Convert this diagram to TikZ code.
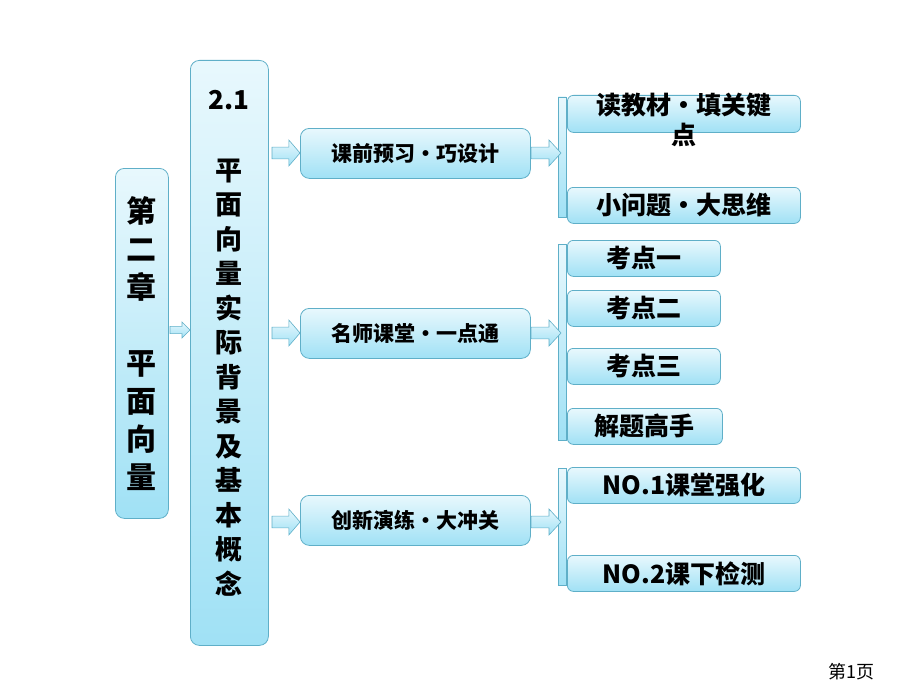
\documentclass[tikz,border=0pt]{standalone}
\usepackage{fontspec}
\setmainfont{Noto Sans CJK SC}
\usetikzlibrary{positioning, calc}
\definecolor{boxtop}{RGB}{232,248,253}
\definecolor{boxbot}{RGB}{160,225,245}
\definecolor{boxline}{RGB}{95,175,200}
\tikzset{
  box/.style={draw=boxline, line width=0.8pt, rounded corners=9pt, top color=boxtop, bottom color=boxbot, inner sep=0pt, anchor=north west},
  barr/.style={draw=boxline, line width=0.6pt, top color=boxtop, bottom color=boxbot},
  brk/.style={draw=boxline, line width=0.6pt, top color=boxtop, bottom color=boxbot}
}
% block arrow: x, y (middle left), length, half height
\newcommand{\blkarrow}[4]{%
  \draw[barr] (#1,#2-#4*0.45) -- ++(#3*0.6,0) -- ++(0,-#4*0.55) -- (#1+#3,#2)
    -- (#1+#3*0.6,#2+#4) -- ++(0,-#4*0.55) -- (#1,#2+#4*0.45) -- cycle;}
\begin{document}
\begin{tikzpicture}[x=1pt, y=-1pt, every node/.style={font=\fontsize{21}{22}\selectfont\bfseries}]
\useasboundingbox (0,0) rectangle (920,690);
% left columns
\node[box, minimum width=53pt, minimum height=350pt] (chap) at (115,168) {};
\node[font=\fontsize{30}{38}\selectfont\bfseries, align=center] at (chap.center) {第\\二\\章\\\\平\\面\\向\\量};
\node[box, minimum width=78pt, minimum height=585pt] (sec) at (190,60) {};
\node[font=\fontsize{26}{30}\selectfont\bfseries] at (229,100) {2.1};
\node[font=\fontsize{27}{34.5}\selectfont\bfseries, align=center, anchor=north] at (229,155) {平\\面\\向\\量\\实\\际\\背\\景\\及\\基\\本\\概\\念};
% middle boxes
\foreach \n/\y/\t in {pre/128/课前预习·巧设计, cls/308/名师课堂·一点通, prc/495/创新演练·大冲关}{
  \node[box, minimum width=230pt, minimum height=50pt] (\n) at (300,\y) {};
  \node at (\n.center) {\t};
}
% right boxes
\foreach \n/\y/\w/\t in {r1/187/233/小问题·大思维, k1/240/153/考点一, k2/290/153/考点二, k3/348/153/考点三, k4/408/155/解题高手, n1/467/233/NO.1课堂强化, n2/555/233/NO.2课下检测}{
  \node[box, rounded corners=6pt, minimum width=\w pt, minimum height=36pt] (\n) at (567,\y) {};
  \node[font=\fontsize{25}{28}\selectfont\bfseries] at (\n.center) {\t};
}
\node[box, rounded corners=6pt, minimum width=233pt, minimum height=37pt] (r0) at (567,95) {};
\node[font=\fontsize{25}{30}\selectfont\bfseries, align=center, anchor=north] at ($(r0.north)+(0,-6)$) {读教材·填关键\\点};
% brackets
\fill[brk] (558,97) rectangle (566,217);
\fill[brk] (558,244) rectangle (566,440);
\fill[brk] (558,468) rectangle (566,585);
% arrows
\blkarrow{170}{330}{20}{8}
\foreach \y in {153,333,522}{
  \blkarrow{272}{\y}{28}{13}
  \blkarrow{531}{\y}{30}{13}
}
\node[font=\fontsize{18}{20}\selectfont, anchor=east] (pg) at (878,672) {第1页};
\end{tikzpicture}
\end{document}
